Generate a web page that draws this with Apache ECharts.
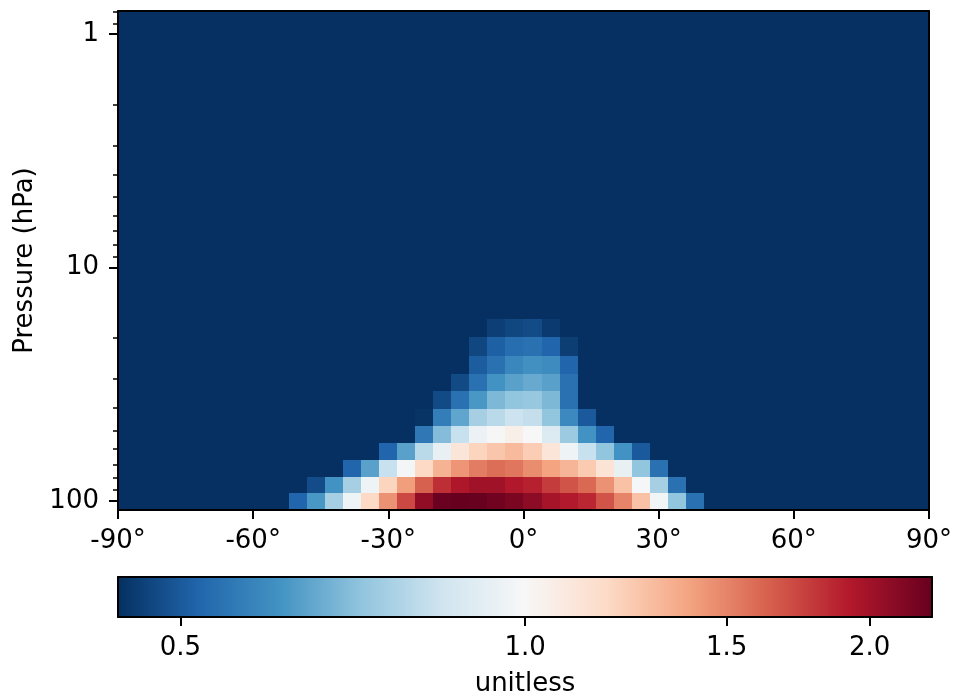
<!DOCTYPE html>
<html><head><meta charset="utf-8">
<script src="https://cdn.jsdelivr.net/npm/echarts@6/dist/echarts.min.js"></script>
<style>html,body{margin:0;padding:0;background:#fff}#c{width:955px;height:700px}</style>
</head><body><div id="c"></div><script>
// ---- data ----
const latitudes = [-90,-86,-82,-78,-74,-70,-66,-62,-58,-54,-50,-46,-42,-38,-34,-30,-26,-22,-18,-14,-10,-6,-2,
                   2,6,10,14,18,22,26,30,34,38,42,46,50,54,58,62,66,70,74,78,82,86,90];
const pressureLevels = [100,85.5,72.8,61.5,52,44,37,31.2,26.2,21.8,18.2,15.3,12.9,10.9,9.2,7.7,6.5,5.5,4.6,3.9,3.3,2.8,2.3,2.0,1.66,1.4,1.18,0.99,0.84];
const latTicks = [-90,-60,-30,0,30,60,90];
const pressureTicks = [1,10,100];
const pressureMinorTicks = [0.8,0.9,2,3,4,5,6,7,8,9,20,30,40,50,60,70,80,90];
const colorTicks = [0.5,1.0,1.5,2.0];
const colorMin = 0.441, colorMax = 2.267;
const backgroundValue = 0.441;
// first latitude of each non-background row, one per pressure level (bottom up)
const rowStartLat = [-50,-46,-38,-30,-22,-22,-18,-14,-10,-10,-6];
const row100 = [0.52,0.62,0.76,0.96,1.18,1.45,1.72,2.07,2.25,2.27,2.26,2.22,2.17,2.09,1.98,1.92,1.86,1.68,1.50,1.27,0.98,0.72,0.54];
const row85 = [0.48,0.61,0.76,0.96,1.20,1.41,1.63,1.83,1.94,2.00,2.00,1.93,1.89,1.77,1.68,1.60,1.45,1.27,0.99,0.76,0.54];
const row73 = [0.52,0.64,0.83,0.985,1.18,1.33,1.44,1.53,1.58,1.55,1.47,1.39,1.32,1.24,1.12,0.94,0.72,0.54];
const row62 = [0.52,0.64,0.80,0.94,1.11,1.20,1.26,1.30,1.23,1.11,0.96,0.83,0.72,0.61,0.50];
const row52 = [0.555,0.70,0.83,0.95,0.995,1.05,1.0,0.89,0.74,0.61,0.52];
const row44 = [0.445,0.567,0.65,0.76,0.80,0.84,0.82,0.72,0.59,0.50];
const row37 = [0.477,0.54,0.62,0.69,0.72,0.73,0.69,0.54];
const row31 = [0.477,0.54,0.61,0.64,0.66,0.64,0.54];
const row26 = [0.505,0.54,0.585,0.605,0.595,0.52];
const row22 = [0.473,0.51,0.535,0.54,0.52,0.46];
const row18 = [0.462,0.473,0.478,0.455];
const rows = [row100,row85,row73,row62,row52,row44,row37,row31,row26,row22,row18];

// ---- colormap (RdBu_r) with log normalisation ----
const cmapStops = ['#053061','#2166ac','#4393c3','#92c5de','#d1e5f0','#f7f7f7','#fddbc7','#f4a582','#d6604d','#b2182b','#67001f'];
const cmapRGB = cmapStops.map(h => [parseInt(h.slice(1,3),16),parseInt(h.slice(3,5),16),parseInt(h.slice(5,7),16)]);
function colorFor(v){
  let t = (Math.log(v)-Math.log(colorMin))/(Math.log(colorMax)-Math.log(colorMin));
  t = Math.max(0, Math.min(1, t));
  const s = t*10; const i = Math.min(9, Math.floor(s)); const f = s - i;
  const a = cmapRGB[i], b = cmapRGB[i+1];
  const c = a.map((x,k)=>Math.round(x + (b[k]-x)*f));
  return 'rgb(' + c.join(',') + ')';
}

// ---- cell edges ----
const nL = pressureLevels.length;
const pEdges = [];
pEdges.push(pressureLevels[0]*pressureLevels[0]/pressureLevels[1]);
for (let k=1;k<nL;k++) pEdges.push(Math.sqrt(pressureLevels[k-1]*pressureLevels[k]));
pEdges.push(pressureLevels[nL-1]*pressureLevels[nL-1]/pressureLevels[nL-2]);
const halfLat = (latitudes[1]-latitudes[0])/2;

const cells = [];
pressureLevels.forEach((p,k)=>{
  const row = rows[k];
  const j0 = row ? latitudes.indexOf(rowStartLat[k]) : -1;
  latitudes.forEach((lat,i)=>{
    let v = backgroundValue;
    if (row && i-j0 >= 0 && i-j0 < row.length) v = row[i-j0];
    cells.push([lat, p, v, k]);
  });
});

function renderCell(params, api){
  const lat = api.value(0), v = api.value(2), k = api.value(3);
  const a = api.coord([lat-halfLat, pEdges[k]]);
  const b = api.coord([lat+halfLat, pEdges[k+1]]);
  const x0 = Math.round(Math.min(a[0],b[0])), x1 = Math.round(Math.max(a[0],b[0]));
  const y0 = Math.round(Math.min(a[1],b[1])), y1 = Math.round(Math.max(a[1],b[1]));
  return {type:'rect', shape:{x:x0,y:y0,width:x1-x0,height:y1-y0}, style:{fill:colorFor(v)}};
}
function renderBar(params, api){
  const a = api.coord([api.value(0), api.value(1)]);
  const b = api.coord([api.value(2), api.value(3)]);
  return {type:'rect',
    shape:{x:Math.min(a[0],b[0]), y:Math.min(a[1],b[1]), width:Math.abs(b[0]-a[0]), height:Math.abs(b[1]-a[1])},
    style:{fill:new echarts.graphic.LinearGradient(0,0,1,0, cmapStops.map((c,i)=>({offset:i/10,color:c})))}};
}

const line = {show:true, onZero:false, lineStyle:{color:'#000', width:2}};
const noLine = {show:false, onZero:false};
const noTick = {show:false}, noLabel = {show:false}, noSplit = {show:false};
const font = 'DejaVu Sans';

const chart = echarts.init(document.getElementById('c'), null, {renderer:'canvas'});
chart.setOption({
  animation:false,
  textStyle:{fontFamily:font},
  grid:[
    {left:118, right:23, top:11, bottom:190},
    {left:118, right:23, top:577, height:40}
  ],
  xAxis:[
    {gridIndex:0, type:'value', min:-90, max:90, interval:30, position:'bottom', z:10,
     axisLine:line, axisTick:{show:true, length:9, lineStyle:{color:'#000', width:2}},
     axisLabel:{margin:18, fontSize:26, color:'#000', fontFamily:font, formatter:v=>v+'°', customValues:latTicks},
     splitLine:noSplit},
    {gridIndex:0, type:'value', min:-90, max:90, position:'top', z:10, axisLine:line, axisTick:noTick, axisLabel:noLabel, splitLine:noSplit},
    {gridIndex:1, type:'log', min:colorMin, max:colorMax, position:'bottom', z:10,
     axisLine:line, axisTick:{show:true, length:9, customValues:colorTicks, lineStyle:{color:'#000', width:2}},
     axisLabel:{margin:18, fontSize:26, color:'#000', fontFamily:font, customValues:colorTicks, formatter:v=>Number(v).toFixed(1)},
     splitLine:noSplit, minorTick:{show:false},
     name:'unitless', nameLocation:'middle', nameGap:54, nameTextStyle:{fontSize:26, color:'#000', fontFamily:font}},
    {gridIndex:1, type:'value', min:0, max:1, position:'top', z:10, axisLine:line, axisTick:noTick, axisLabel:noLabel, splitLine:noSplit}
  ],
  yAxis:[
    {gridIndex:0, type:'log', min:0.797, max:109.5, inverse:true, position:'left', z:10,
     axisLine:line, axisTick:{show:true, length:9, customValues:pressureTicks, lineStyle:{color:'#000', width:2}},
     axisLabel:{margin:19, fontSize:26, color:'#000', fontFamily:font, customValues:pressureTicks, formatter:v=>String(Math.round(v))},
     splitLine:noSplit,
     name:'Pressure (hPa)', nameLocation:'middle', nameRotate:90, nameGap:78, nameTextStyle:{fontSize:26, color:'#000', fontFamily:font}},
    {gridIndex:0, type:'log', min:0.797, max:109.5, inverse:true, position:'left', offset:0, z:10,
     axisLine:noLine, axisTick:{show:true, length:5, customValues:pressureMinorTicks, lineStyle:{color:'#000', width:1.5}},
     axisLabel:noLabel, splitLine:noSplit},
    {gridIndex:0, type:'log', min:0.797, max:109.5, inverse:true, position:'right', z:10, axisLine:line, axisTick:noTick, axisLabel:noLabel, splitLine:noSplit},
    {gridIndex:1, type:'value', min:0, max:1, position:'left', z:10, axisLine:line, axisTick:noTick, axisLabel:noLabel, splitLine:noSplit},
    {gridIndex:1, type:'value', min:0, max:1, position:'right', z:10, axisLine:line, axisTick:noTick, axisLabel:noLabel, splitLine:noSplit}
  ],
  series:[
    {type:'custom', xAxisIndex:0, yAxisIndex:0, clip:true, silent:true, renderItem:renderCell, encode:{x:0, y:1}, data:cells},
    {type:'custom', xAxisIndex:2, yAxisIndex:3, clip:true, silent:true, renderItem:renderBar, encode:{x:[0,2], y:[1,3]},
     data:[[colorMin,0,colorMax,1]]}
  ]
});
</script></body></html>
